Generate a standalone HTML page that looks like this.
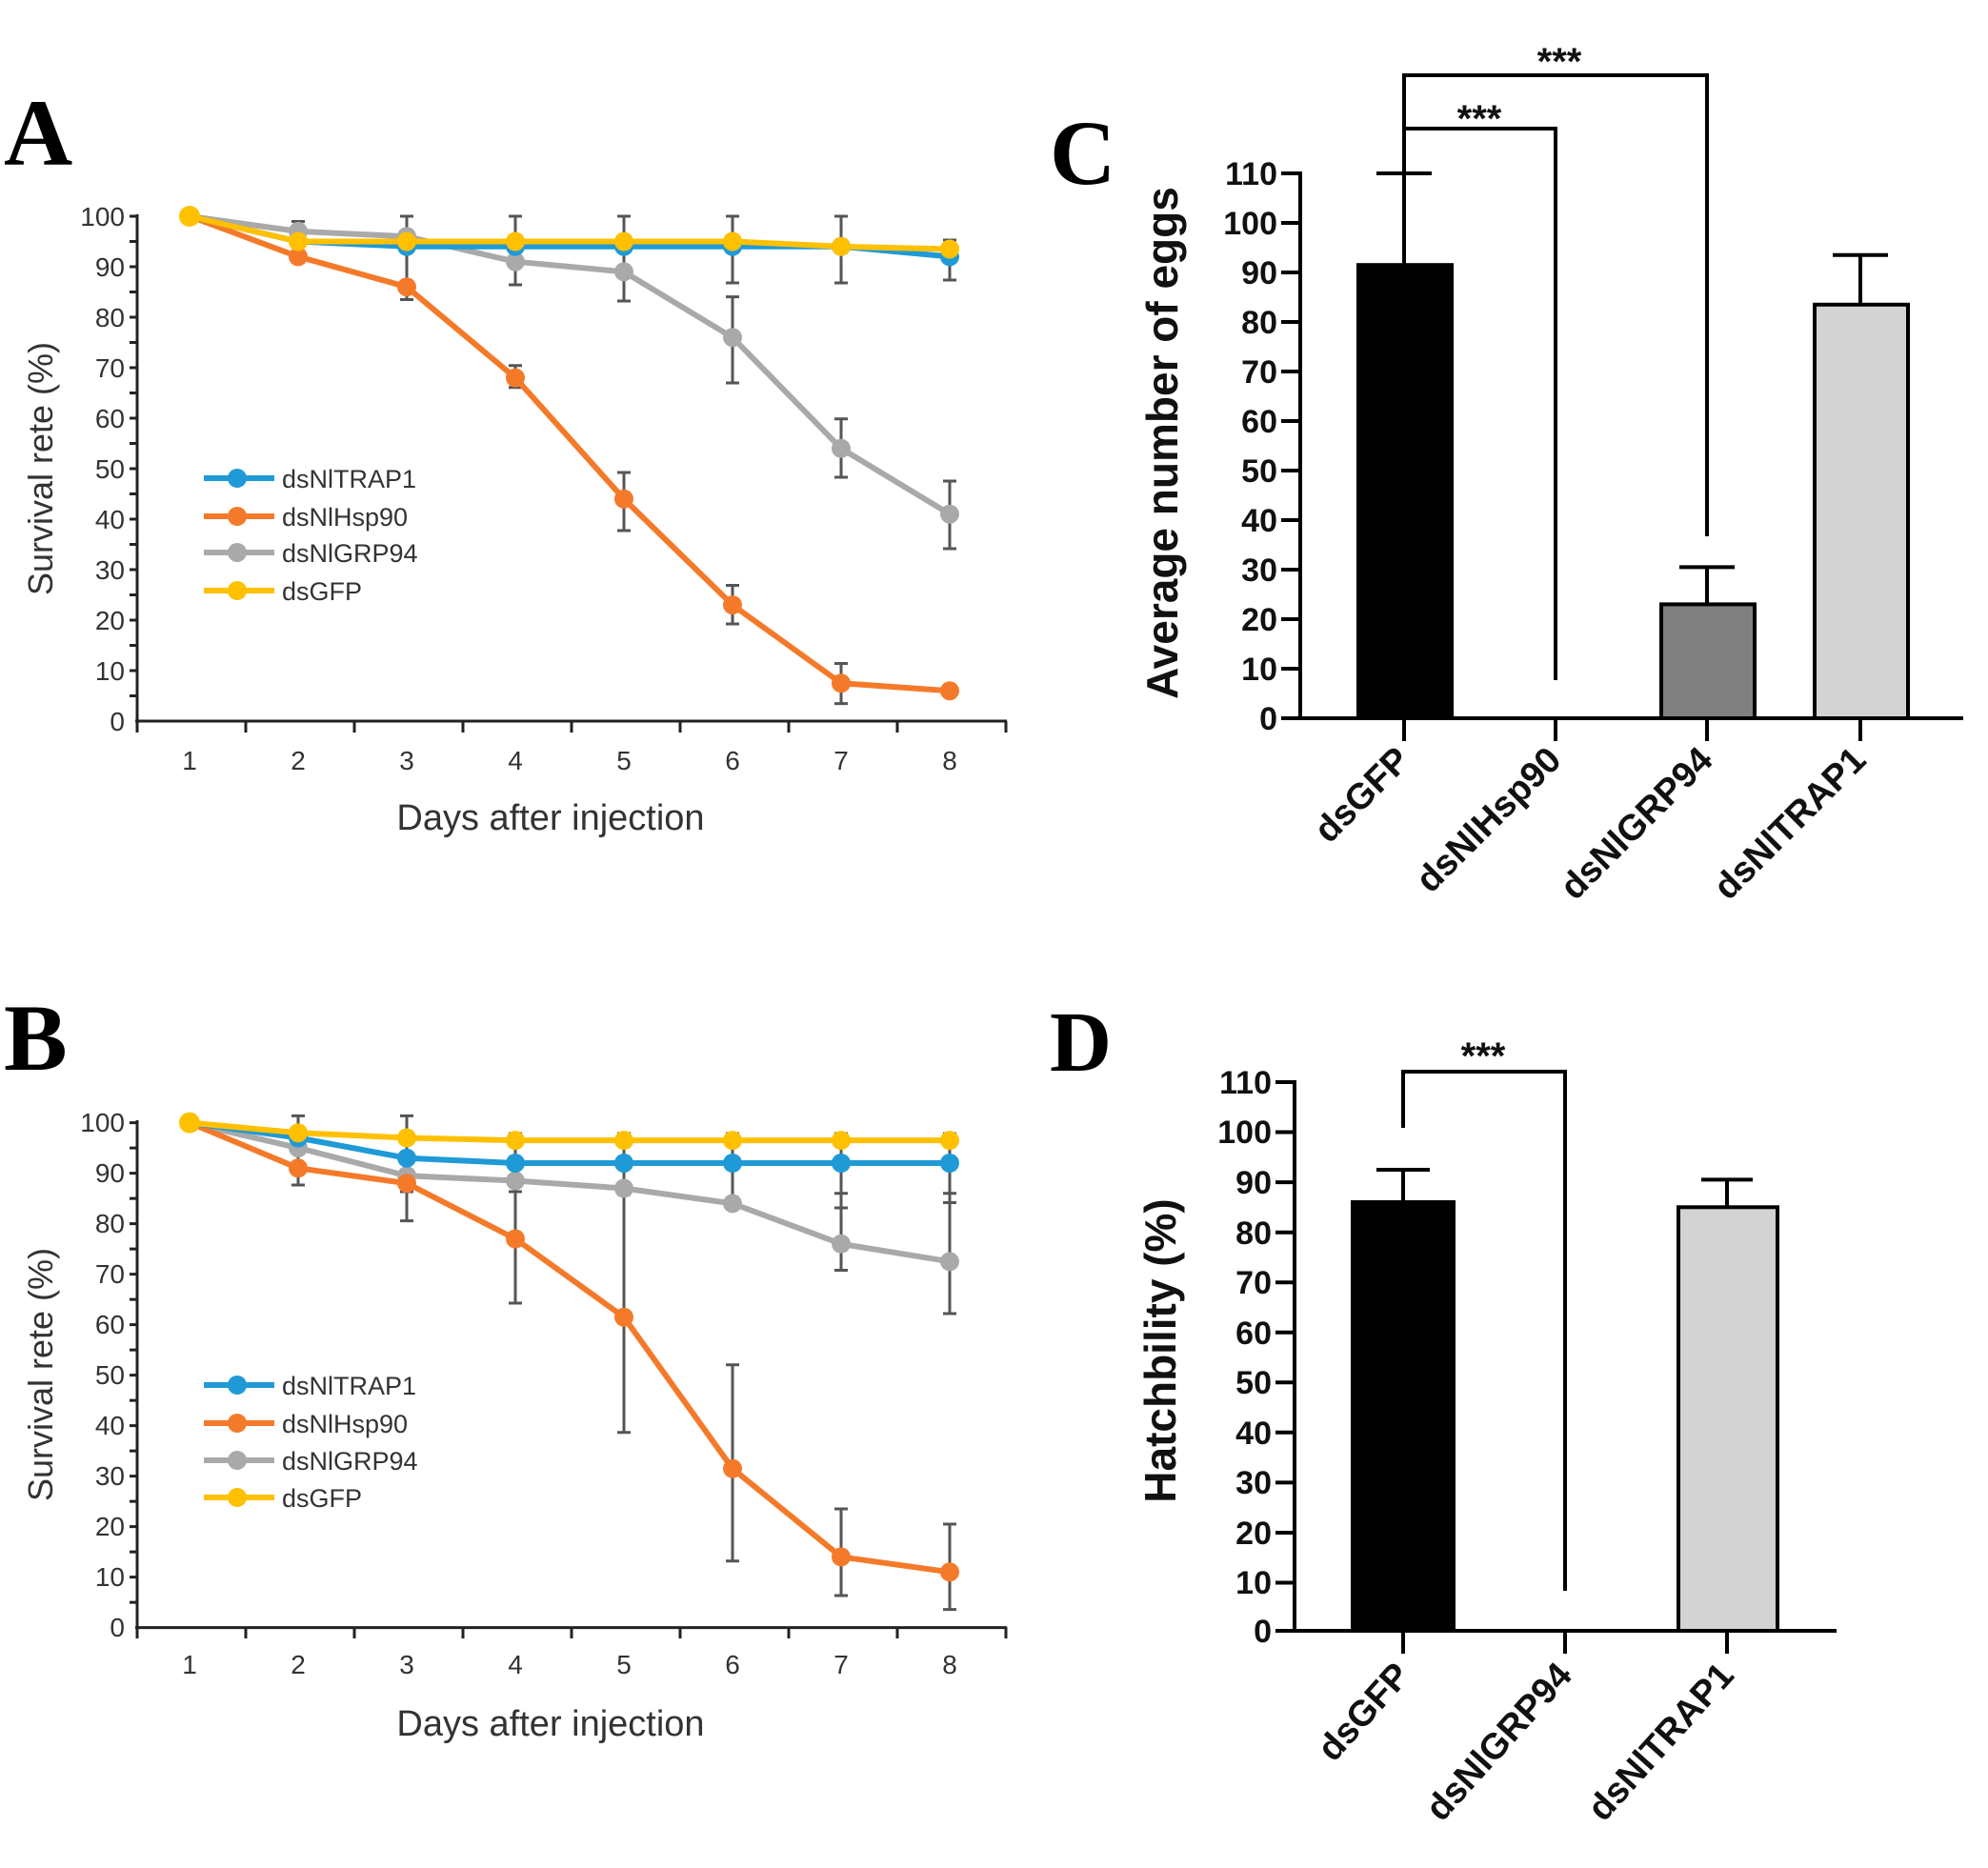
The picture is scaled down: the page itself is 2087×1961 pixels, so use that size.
<!DOCTYPE html>
<html><head><meta charset="utf-8"><style>
html,body{margin:0;padding:0;background:#fff}
svg{display:block}
.t{font-family:"Liberation Sans",sans-serif;fill:#333}
.b{font-family:"Liberation Sans",sans-serif;font-weight:bold;fill:#111}
.L{font-family:"Liberation Serif",serif;font-weight:bold;fill:#000}
</style></head><body>
<svg width="2087" height="1961" viewBox="0 0 2087 1961" xmlns="http://www.w3.org/2000/svg">
<text class="L" x="4" y="173" font-size="100">A</text>
<text class="L" x="4" y="1123" font-size="100">B</text>
<text class="L" x="1102" y="193" font-size="96">C</text>
<text class="L" x="1102" y="1124" font-size="90">D</text>

<!-- ===== Panel A ===== -->
<g stroke="#222" stroke-width="3" fill="none">
<line x1="144" y1="225" x2="144" y2="759"/>
<line x1="142" y1="757" x2="1057" y2="757"/>
<path d="M136 227H144M136 253.5H144M136 280H144M136 306.5H144M136 333H144M136 359.5H144M136 386H144M136 412.5H144M136 439H144M136 465.5H144M136 492H144M136 518.5H144M136 545H144M136 571.5H144M136 598H144M136 624.5H144M136 651H144M136 677.5H144M136 704H144M136 730.5H144"/>
<path d="M144 757V769M258 757V769M372 757V769M486 757V769M600 757V769M714 757V769M828 757V769M942 757V769M1056 757V769"/>
</g>
<g class="t" font-size="28" text-anchor="end">
<text x="131" y="237">100</text><text x="131" y="290">90</text><text x="131" y="343">80</text><text x="131" y="396">70</text><text x="131" y="449">60</text><text x="131" y="502">50</text><text x="131" y="555">40</text><text x="131" y="608">30</text><text x="131" y="661">20</text><text x="131" y="714">10</text><text x="131" y="767">0</text>
</g>
<g class="t" font-size="28" text-anchor="middle">
<text x="199" y="808">1</text><text x="313" y="808">2</text><text x="427" y="808">3</text><text x="541" y="808">4</text><text x="655" y="808">5</text><text x="769" y="808">6</text><text x="883" y="808">7</text><text x="997" y="808">8</text>
</g>
<text class="t" x="578" y="871" font-size="38" text-anchor="middle">Days after injection</text>
<text class="t" x="55" y="492" font-size="36" text-anchor="middle" transform="rotate(-90 55 492)">Survival rete (%)</text>
<g stroke="#555" stroke-width="3" fill="none">
<path d="M313 232.5V258M306 232.5H320M306 258H320M427 227V314.5M420 227H434M420 300H434M420 314.5H434M541 227V299M534 227H548M534 299H548M541 383.7V406.8M534 383.7H548M534 406.8H548M655 227V316M648 227H662M648 316H662M655 496V557M648 496H662M648 557H662M769 227V297M762 227H776M762 297H776M769 311.6V402M762 311.6H776M762 402H776M769 614.5V655M762 614.5H776M762 655H776M883 227V297M876 227H890M876 297H890M883 439.7V501M876 439.7H890M876 501H890M883 696.5V738.6M876 696.5H890M876 738.6H890M997 252V294M990 252H1004M990 294H1004M997 505V576M990 505H1004M990 576H1004"/>
</g>
<g fill="none" stroke-width="6" stroke-linejoin="round">
<polyline stroke="#a9a9a9" points="199,227 313,242.9 427,248.2 541,274.7 655,285.3 769,354.2 883,470.8 997,539.7"/>
<polyline stroke="#f47a2a" points="199,227 313,269.4 427,301.2 541,396.6 655,523.8 769,635.1 883,717.25 997,725.2"/>
<polyline stroke="#1f9ad6" points="199,227 313,253.5 427,258.8 541,258.8 655,258.8 769,258.8 883,258.8 997,269.4"/>
<polyline stroke="#ffc000" points="199,227 313,253.5 427,253.5 541,253.5 655,253.5 769,253.5 883,258.8 997,261.45"/>
</g>
<g fill="#a9a9a9"><circle cx="313" cy="242.9" r="10"/><circle cx="427" cy="248.2" r="10"/><circle cx="541" cy="274.7" r="10"/><circle cx="655" cy="285.3" r="10"/><circle cx="769" cy="354.2" r="10"/><circle cx="883" cy="470.8" r="10"/><circle cx="997" cy="539.7" r="10"/></g>
<g fill="#f47a2a"><circle cx="313" cy="269.4" r="10"/><circle cx="427" cy="301.2" r="10"/><circle cx="541" cy="396.6" r="10"/><circle cx="655" cy="523.8" r="10"/><circle cx="769" cy="635.1" r="10"/><circle cx="883" cy="717.25" r="10"/><circle cx="997" cy="725.2" r="10"/></g>
<g fill="#1f9ad6"><circle cx="427" cy="258.8" r="10"/><circle cx="541" cy="258.8" r="10"/><circle cx="655" cy="258.8" r="10"/><circle cx="769" cy="258.8" r="10"/><circle cx="883" cy="258.8" r="10"/><circle cx="997" cy="269.4" r="10"/></g>
<g fill="#ffc000"><circle cx="199" cy="227" r="11"/><circle cx="313" cy="253.5" r="10"/><circle cx="427" cy="253.5" r="10"/><circle cx="541" cy="253.5" r="10"/><circle cx="655" cy="253.5" r="10"/><circle cx="769" cy="253.5" r="10"/><circle cx="883" cy="258.8" r="10"/><circle cx="997" cy="261.45" r="10"/></g>
<g stroke-width="6"><line x1="214" y1="502" x2="288" y2="502" stroke="#1f9ad6"/><line x1="214" y1="542" x2="288" y2="542" stroke="#f47a2a"/><line x1="214" y1="580" x2="288" y2="580" stroke="#a9a9a9"/><line x1="214" y1="620" x2="288" y2="620" stroke="#ffc000"/></g>
<circle cx="249" cy="502" r="10" fill="#1f9ad6"/><circle cx="249" cy="542" r="10" fill="#f47a2a"/><circle cx="249" cy="580" r="10" fill="#a9a9a9"/><circle cx="249" cy="620" r="10" fill="#ffc000"/>
<g class="t" font-size="27"><text x="296" y="512">dsNlTRAP1</text><text x="296" y="552">dsNlHsp90</text><text x="296" y="590">dsNlGRP94</text><text x="296" y="630">dsGFP</text></g>

<!-- ===== Panel B ===== -->
<g stroke="#222" stroke-width="3" fill="none">
<line x1="144" y1="1176" x2="144" y2="1711"/>
<line x1="142" y1="1708.6" x2="1057" y2="1708.6"/>
<path d="M136 1178.6H144M136 1205.1H144M136 1231.6H144M136 1258.1H144M136 1284.6H144M136 1311.1H144M136 1337.6H144M136 1364.1H144M136 1390.6H144M136 1417.1H144M136 1443.6H144M136 1470.1H144M136 1496.6H144M136 1523.1H144M136 1549.6H144M136 1576.1H144M136 1602.6H144M136 1629.1H144M136 1655.6H144M136 1682.1H144"/>
<path d="M144 1708V1720M258 1708V1720M372 1708V1720M486 1708V1720M600 1708V1720M714 1708V1720M828 1708V1720M942 1708V1720M1056 1708V1720"/>
</g>
<g class="t" font-size="28" text-anchor="end">
<text x="131" y="1188">100</text><text x="131" y="1241">90</text><text x="131" y="1294">80</text><text x="131" y="1347">70</text><text x="131" y="1400">60</text><text x="131" y="1453">50</text><text x="131" y="1506">40</text><text x="131" y="1559">30</text><text x="131" y="1612">20</text><text x="131" y="1665">10</text><text x="131" y="1718">0</text>
</g>
<g class="t" font-size="28" text-anchor="middle">
<text x="199" y="1757">1</text><text x="313" y="1757">2</text><text x="427" y="1757">3</text><text x="541" y="1757">4</text><text x="655" y="1757">5</text><text x="769" y="1757">6</text><text x="883" y="1757">7</text><text x="997" y="1757">8</text>
</g>
<text class="t" x="578" y="1822" font-size="38" text-anchor="middle">Days after injection</text>
<text class="t" x="55" y="1443" font-size="36" text-anchor="middle" transform="rotate(-90 55 1443)">Survival rete (%)</text>
<g stroke="#555" stroke-width="3" fill="none">
<path d="M313 1171.4V1244M306 1171.4H320M306 1244H320M427 1171.4V1281.6M420 1171.4H434M420 1251H434M420 1281.6H434M541 1190V1368M534 1190H548M534 1251H548M534 1368H548M655 1190V1503.7M648 1190H662M648 1254H662M648 1503.7H662M769 1190V1268M762 1190H776M762 1268H776M769 1432.8V1638.8M762 1432.8H776M762 1638.8H776M883 1190V1333.5M876 1190H890M876 1252.7H890M876 1268H890M876 1333.5H890M883 1584V1675M876 1584H890M876 1675H890M997 1190V1379M990 1190H1004M990 1252.7H1004M990 1262.5H1004M990 1379H1004M997 1600V1689.6M990 1600H1004M990 1689.6H1004"/>
</g>
<g fill="none" stroke-width="6" stroke-linejoin="round">
<polyline stroke="#a9a9a9" points="199,1178.6 313,1205.1 427,1234.25 541,1239.55 655,1247.5 769,1263.4 883,1305.8 997,1324.35"/>
<polyline stroke="#f47a2a" points="199,1178.6 313,1226.3 427,1242.2 541,1300.5 655,1382.7 769,1541.7 883,1634.4 997,1650.3"/>
<polyline stroke="#1f9ad6" points="199,1178.6 313,1194.5 427,1215.7 541,1221 655,1221 769,1221 883,1221 997,1221"/>
<polyline stroke="#ffc000" points="199,1178.6 313,1189.2 427,1194.5 541,1197.15 655,1197.15 769,1197.15 883,1197.15 997,1197.15"/>
</g>
<g fill="#a9a9a9"><circle cx="313" cy="1205.1" r="10"/><circle cx="427" cy="1234.25" r="10"/><circle cx="541" cy="1239.55" r="10"/><circle cx="655" cy="1247.5" r="10"/><circle cx="769" cy="1263.4" r="10"/><circle cx="883" cy="1305.8" r="10"/><circle cx="997" cy="1324.35" r="10"/></g>
<g fill="#f47a2a"><circle cx="313" cy="1226.3" r="10"/><circle cx="427" cy="1242.2" r="10"/><circle cx="541" cy="1300.5" r="10"/><circle cx="655" cy="1382.7" r="10"/><circle cx="769" cy="1541.7" r="10"/><circle cx="883" cy="1634.4" r="10"/><circle cx="997" cy="1650.3" r="10"/></g>
<g fill="#1f9ad6"><circle cx="313" cy="1194.5" r="10"/><circle cx="427" cy="1215.7" r="10"/><circle cx="541" cy="1221" r="10"/><circle cx="655" cy="1221" r="10"/><circle cx="769" cy="1221" r="10"/><circle cx="883" cy="1221" r="10"/><circle cx="997" cy="1221" r="10"/></g>
<g fill="#ffc000"><circle cx="199" cy="1178.6" r="11"/><circle cx="313" cy="1189.2" r="10"/><circle cx="427" cy="1194.5" r="10"/><circle cx="541" cy="1197.15" r="10"/><circle cx="655" cy="1197.15" r="10"/><circle cx="769" cy="1197.15" r="10"/><circle cx="883" cy="1197.15" r="10"/><circle cx="997" cy="1197.15" r="10"/></g>
<g stroke-width="6"><line x1="214" y1="1454" x2="288" y2="1454" stroke="#1f9ad6"/><line x1="214" y1="1494" x2="288" y2="1494" stroke="#f47a2a"/><line x1="214" y1="1533" x2="288" y2="1533" stroke="#a9a9a9"/><line x1="214" y1="1572" x2="288" y2="1572" stroke="#ffc000"/></g>
<circle cx="249" cy="1454" r="10" fill="#1f9ad6"/><circle cx="249" cy="1494" r="10" fill="#f47a2a"/><circle cx="249" cy="1533" r="10" fill="#a9a9a9"/><circle cx="249" cy="1572" r="10" fill="#ffc000"/>
<g class="t" font-size="27"><text x="296" y="1464">dsNlTRAP1</text><text x="296" y="1504">dsNlHsp90</text><text x="296" y="1543">dsNlGRP94</text><text x="296" y="1582">dsGFP</text></g>

<!-- ===== Panel C ===== -->
<g stroke="#000" stroke-width="4" fill="none">
<rect x="1426" y="278.2" width="98" height="475.8" fill="#000"/>
<rect x="1744" y="634.4" width="98" height="119.6" fill="#808080"/>
<rect x="1905" y="319.8" width="98" height="434.2" fill="#d3d3d3"/>
<path d="M1474 278V182M1445 182H1503M1792 634V595.4M1763 595.4H1821M1953 320V267.8M1924 267.8H1982"/>
<line x1="1365" y1="180" x2="1365" y2="756"/>
<line x1="1363" y1="754" x2="2061" y2="754"/>
<path d="M1345 182H1365M1345 234H1365M1345 286H1365M1345 338H1365M1345 390H1365M1345 442H1365M1345 494H1365M1345 546H1365M1345 598H1365M1345 650H1365M1345 702H1365M1345 754H1365"/>
<path d="M1474 754V778M1633 754V778M1792 754V778M1953 754V778"/>
<path d="M1474 182V79H1792V563M1474 135H1633V714"/>
</g>
<g class="b" font-size="34" text-anchor="end">
<text x="1341" y="194">110</text><text x="1341" y="246">100</text><text x="1341" y="298">90</text><text x="1341" y="350">80</text><text x="1341" y="402">70</text><text x="1341" y="454">60</text><text x="1341" y="506">50</text><text x="1341" y="558">40</text><text x="1341" y="610">30</text><text x="1341" y="662">20</text><text x="1341" y="714">10</text><text x="1341" y="766">0</text>
</g>
<text class="b" x="1236" y="465" font-size="46" text-anchor="middle" transform="rotate(-90 1236 465)">Average number of eggs</text>
<g class="b" font-size="40" text-anchor="middle"><text x="1637" y="78">***</text><text x="1553" y="138">***</text></g>
<g class="b" font-size="38" text-anchor="end">
<text transform="translate(1482 800) rotate(-45)">dsGFP</text>
<text transform="translate(1641 800) rotate(-45)">dsNlHsp90</text>
<text transform="translate(1800 800) rotate(-45)">dsNlGRP94</text>
<text transform="translate(1961 800) rotate(-45)">dsNlTRAP1</text>
</g>

<!-- ===== Panel D ===== -->
<g stroke="#000" stroke-width="4" fill="none">
<rect x="1420" y="1262" width="106" height="450" fill="#000"/>
<rect x="1762" y="1267.3" width="104" height="444.7" fill="#d3d3d3"/>
<path d="M1473 1262V1228M1445 1228H1501M1813 1268V1238.4M1786 1238.4H1840"/>
<line x1="1359" y1="1134" x2="1359" y2="1714"/>
<line x1="1357" y1="1712" x2="1928" y2="1712"/>
<path d="M1339 1136H1359M1339 1188.5H1359M1339 1241.1H1359M1339 1293.7H1359M1339 1346.2H1359M1339 1398.8H1359M1339 1451.3H1359M1339 1503.8H1359M1339 1556.4H1359M1339 1609H1359M1339 1661.5H1359M1339 1712H1359"/>
<path d="M1473 1712V1736M1643 1712V1736M1813 1712V1736"/>
<path d="M1473 1184V1125H1643V1670"/>
</g>
<g class="b" font-size="34" text-anchor="end">
<text x="1335" y="1148">110</text><text x="1335" y="1200">100</text><text x="1335" y="1253">90</text><text x="1335" y="1306">80</text><text x="1335" y="1358">70</text><text x="1335" y="1411">60</text><text x="1335" y="1463">50</text><text x="1335" y="1516">40</text><text x="1335" y="1568">30</text><text x="1335" y="1621">20</text><text x="1335" y="1673">10</text><text x="1335" y="1724">0</text>
</g>
<text class="b" x="1234" y="1418" font-size="46" text-anchor="middle" transform="rotate(-90 1234 1418)">Hatchbility (%)</text>
<text class="b" x="1557" y="1122" font-size="40" text-anchor="middle">***</text>
<g class="b" font-size="38" text-anchor="end">
<text transform="translate(1482 1760) rotate(-48)">dsGFP</text>
<text transform="translate(1652 1760) rotate(-48)">dsNlGRP94</text>
<text transform="translate(1822 1760) rotate(-48)">dsNlTRAP1</text>
</g>
</svg>
</body></html>
